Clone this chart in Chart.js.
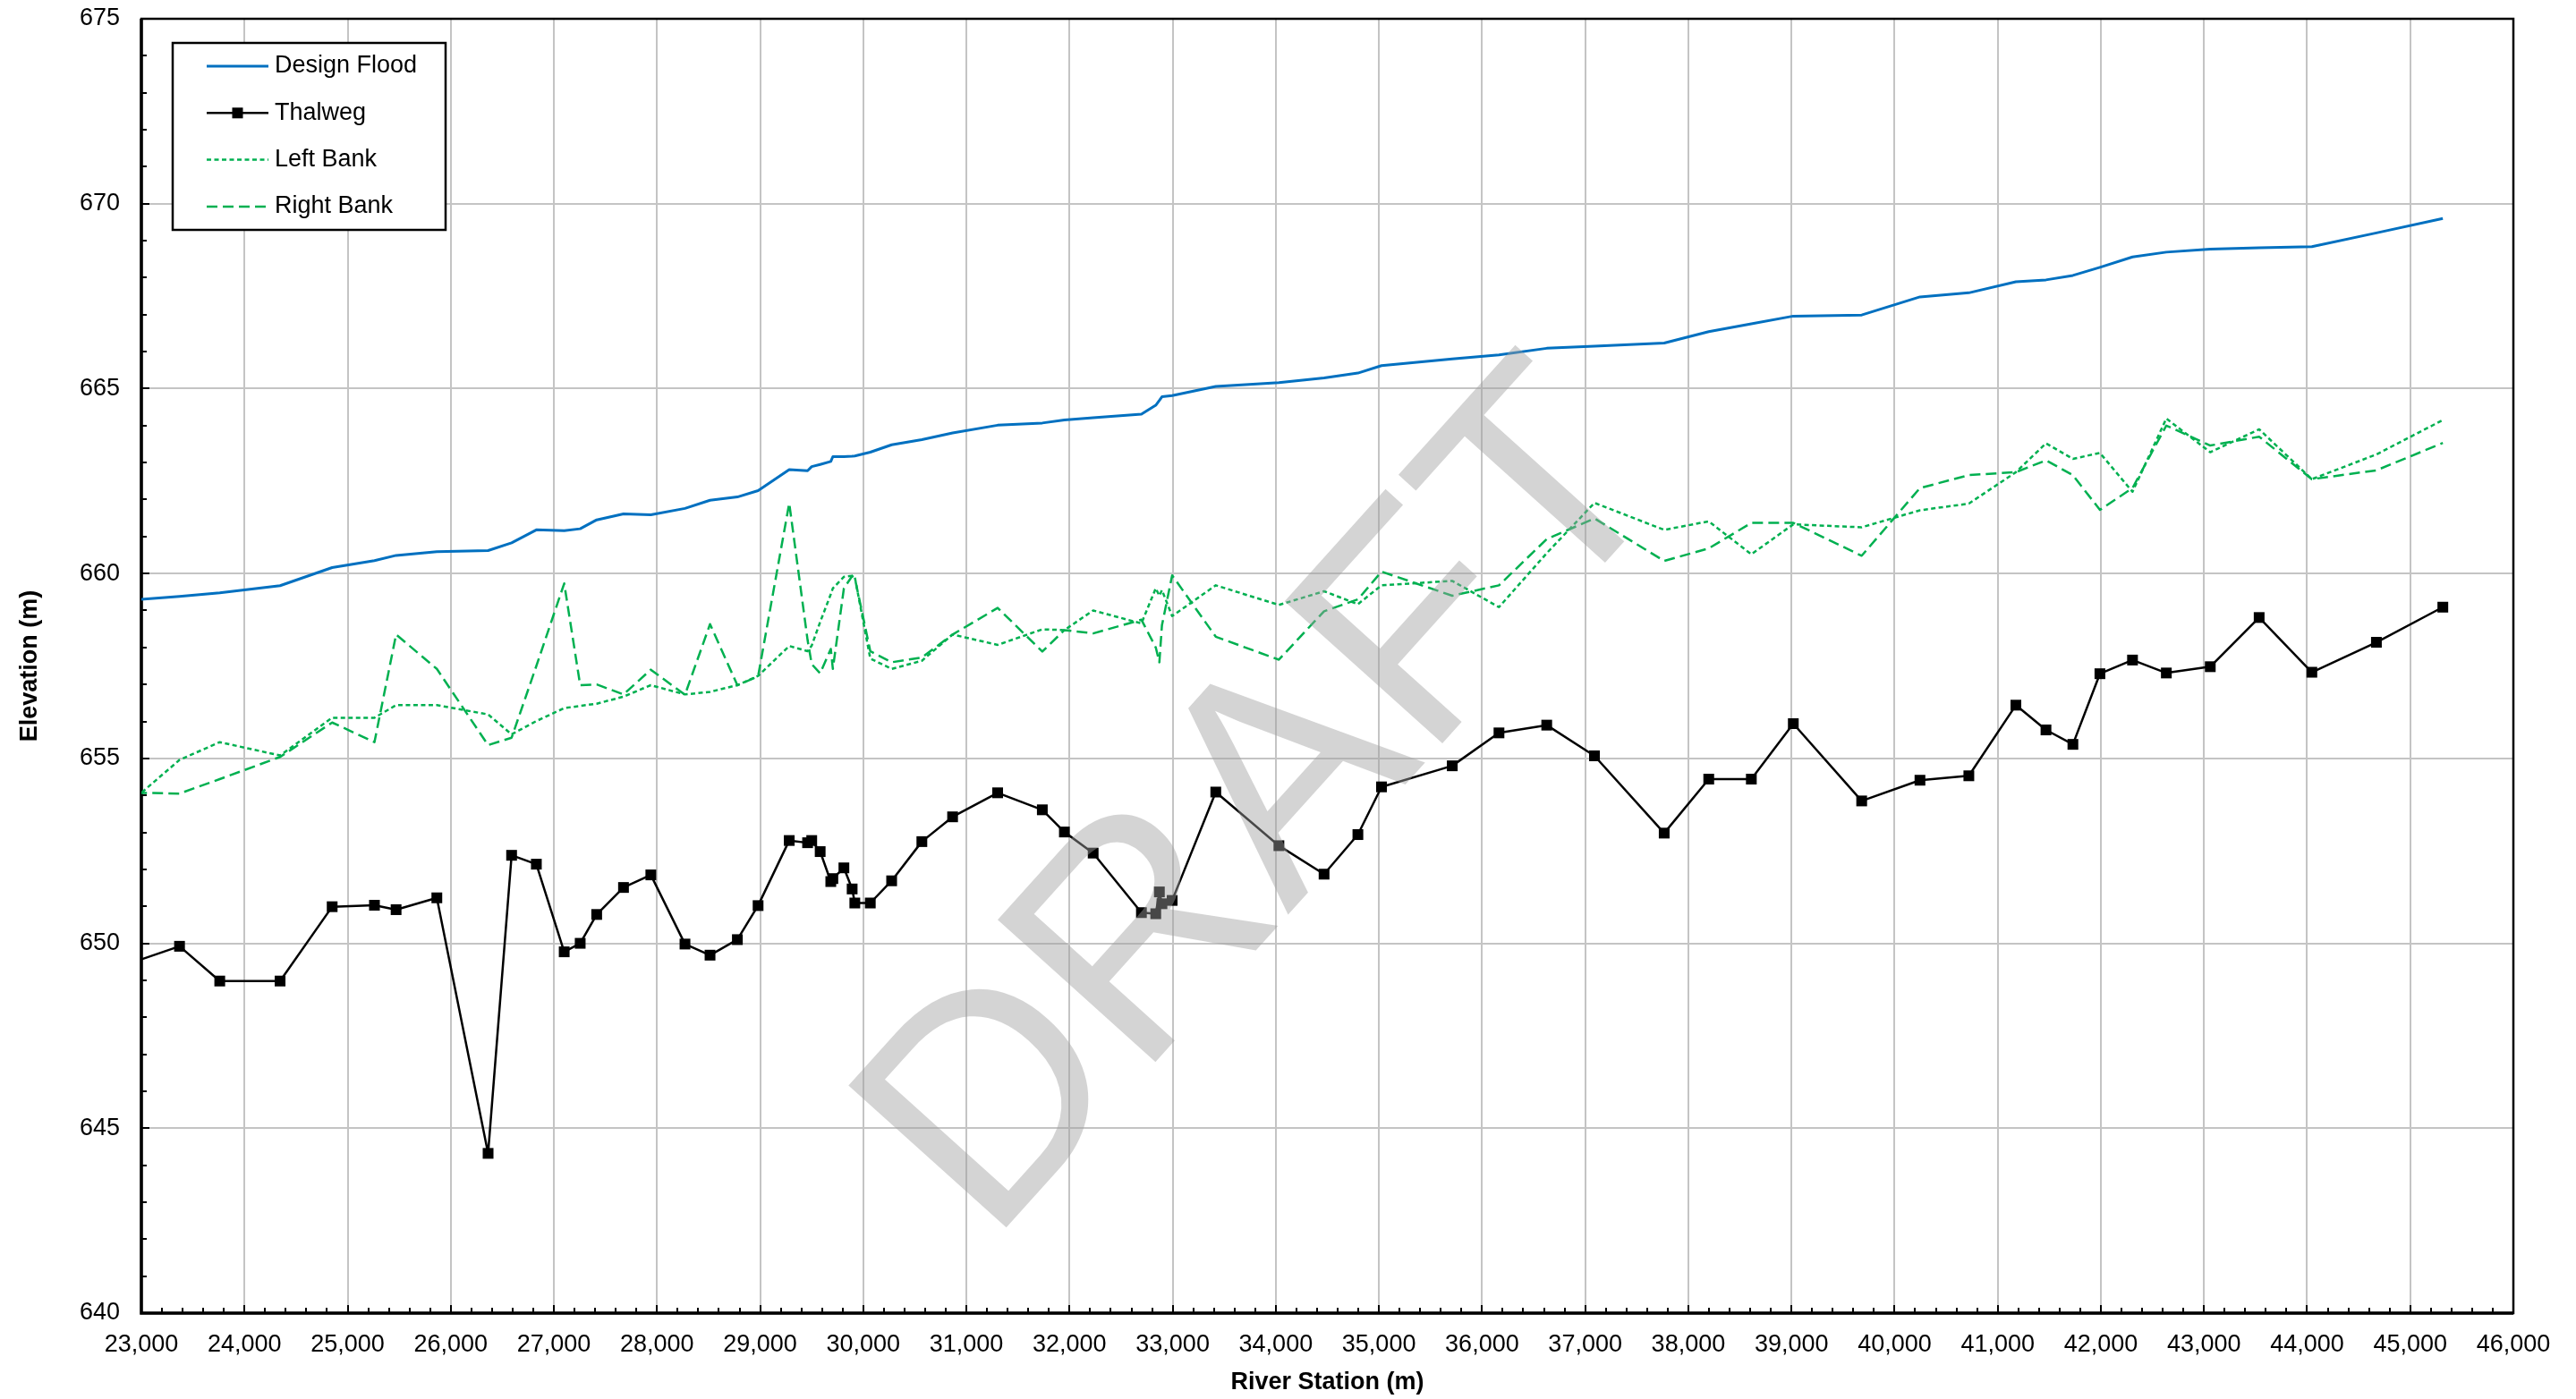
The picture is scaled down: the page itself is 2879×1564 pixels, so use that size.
<!DOCTYPE html>
<html>
<head>
<meta charset="utf-8">
<title>River Profile</title>
<script src="https://cdn.jsdelivr.net/npm/chart.js@4.4.1/dist/chart.umd.min.js"></script>
<style>
  html, body { margin: 0; padding: 0; background: #fff; }
  #profile { display: block; }
</style>
</head>
<body>
<canvas id="profile" width="2879" height="1564"></canvas>
<script>
// River stations (m), shared by every profile
const stations = [
    22950, 23370, 23760, 24345, 24850, 25260, 25470, 25865, 26362, 26590,
    26830, 27100, 27255, 27415, 27675, 27940, 28271, 28514, 28779, 28980,
    29282, 29460, 29500, 29582, 29685, 29705, 29812, 29892, 29918, 30068,
    30275, 30568, 30866, 31303, 31736, 31950, 32229, 32697, 32836, 32871,
    32896, 32995, 33418, 34030, 34468, 34796, 35025, 35711, 36164, 36627,
    37090, 37766, 38198, 38611, 39018, 39681, 40246, 40720, 41176, 41468,
    41729, 41991, 42307, 42635, 43061, 43535, 44046, 44672, 45316
];

// Elevations (m)
const designFlood = [
    659.29, 659.38, 659.48, 659.67, 660.16, 660.35, 660.49, 660.59, 660.62, 660.83,
    661.18, 661.16, 661.21, 661.45, 661.61, 661.59, 661.76, 661.98, 662.07, 662.24,
    662.81, 662.78, 662.89, 662.95, 663.03, 663.16, 663.16, 663.17, 663.18, 663.28,
    663.48, 663.62, 663.80, 664.01, 664.07, 664.15, 664.21, 664.31, 664.55, 664.68,
    664.78, 664.81, 665.06, 665.16, 665.29, 665.42, 665.62, 665.80, 665.91, 666.09,
    666.15, 666.23, 666.54, 666.75, 666.96, 666.99, 667.48, 667.59, 667.89, 667.94,
    668.06, 668.28, 668.56, 668.69, 668.77, 668.81, 668.84, 669.21, 669.60
];
const thalweg = [
    649.52, 649.92, 648.98, 648.98, 650.99, 651.03, 650.91, 651.23, 644.32, 652.38,
    652.14, 649.77, 650.00, 650.78, 651.51, 651.85, 649.98, 649.68, 650.10, 651.02,
    652.78, 652.72, 652.78, 652.48, 651.67, 651.75, 652.04, 651.47, 651.09, 651.09,
    651.69, 652.75, 653.42, 654.07, 653.61, 653.01, 652.44, 650.83, 650.80, 651.39,
    651.07, 651.16, 654.09, 652.64, 651.87, 652.94, 654.23, 654.80, 655.69, 655.90,
    655.07, 652.98, 654.44, 654.44, 655.94, 653.85, 654.41, 654.53, 656.44, 655.77,
    655.38, 657.29, 657.66, 657.31, 657.48, 658.81, 657.33, 658.14, 659.09
];
const leftBank = [
    653.95, 654.96, 655.44, 655.08, 656.10, 656.10, 656.44, 656.44, 656.19, 655.65,
    656.01, 656.36, 656.42, 656.48, 656.67, 656.98, 656.73, 656.80, 656.98, 657.23,
    658.04, 657.90, 658.05, 658.69, 659.44, 659.60, 659.91, 659.94, 659.90, 657.70,
    657.42, 657.64, 658.35, 658.07, 658.49, 658.47, 659.00, 658.65, 659.60, 659.40,
    659.55, 658.85, 659.68, 659.15, 659.52, 659.17, 659.68, 659.80, 659.09, 660.55,
    661.91, 661.18, 661.41, 660.52, 661.33, 661.25, 661.71, 661.89, 662.74, 663.52,
    663.10, 663.26, 662.21, 664.19, 663.28, 663.90, 662.55, 663.22, 664.15
];
const rightBank = [
    654.07, 654.05, 654.44, 655.04, 655.97, 655.44, 658.35, 657.42, 655.36, 655.56,
    657.50, 659.73, 656.98, 657.00, 656.73, 657.40, 656.72, 658.63, 656.98, 657.22,
    661.90, 658.20, 657.55, 657.30, 657.96, 657.42, 659.60, 659.93, 659.88, 657.90,
    657.60, 657.73, 658.35, 659.07, 657.89, 658.47, 658.38, 658.75, 658.00, 657.60,
    658.60, 659.95, 658.29, 657.67, 658.98, 659.30, 660.05, 659.40, 659.68, 660.93,
    661.49, 660.34, 660.68, 661.37, 661.37, 660.48, 662.31, 662.66, 662.74, 663.06,
    662.66, 661.72, 662.31, 664.00, 663.46, 663.70, 662.55, 662.79, 663.53
];

// Axis ranges
const stationRange = [23000, 46000];
const elevationRange = [640, 675];

const FONT = '"Liberation Sans", Arial, sans-serif';
Chart.defaults.font.family = FONT;
Chart.defaults.font.size = 27;
Chart.defaults.color = '#000';

function points(values) {
    return stations.map((s, i) => ({ x: s, y: values[i] }));
}

// inward tick marks and the black frame round the plot area
const frame = {
    id: 'frame',
    beforeDatasetsDraw(chart) {
        const { ctx, chartArea: a, scales: { x, y } } = chart;
        ctx.save();
        ctx.strokeStyle = '#000';
        ctx.lineWidth = 2;
        ctx.beginPath();
        for (let v = elevationRange[0]; v <= elevationRange[1]; v++) {
            const py = Math.round(y.getPixelForValue(v));
            const len = v % 5 === 0 ? 9 : 6;
            ctx.moveTo(a.left, py);
            ctx.lineTo(a.left + len, py);
        }
        for (let v = stationRange[0]; v <= stationRange[1]; v += 200) {
            const px = Math.round(x.getPixelForValue(v));
            const len = v % 1000 === 0 ? 9 : 6;
            ctx.moveTo(px, a.bottom);
            ctx.lineTo(px, a.bottom - len);
        }
        ctx.stroke();
        ctx.lineWidth = 2.5;
        ctx.strokeRect(a.left, a.top, a.right - a.left, a.bottom - a.top);
        ctx.lineWidth = 3.5;
        ctx.beginPath();
        ctx.moveTo(a.left, a.top);
        ctx.lineTo(a.left, a.bottom);
        ctx.lineTo(a.right, a.bottom);
        ctx.stroke();
        ctx.restore();
    }
};

// boxed legend in the top-left corner of the plot
const boxLegend = {
    id: 'boxLegend',
    afterDatasetsDraw(chart) {
        const { ctx, chartArea: a } = chart;
        const left = a.left + 35, top = a.top + 27, w = 305, h = 209;
        ctx.save();
        ctx.fillStyle = '#fff';
        ctx.fillRect(left, top, w, h);
        ctx.lineWidth = 2.5;
        ctx.strokeStyle = '#000';
        ctx.strokeRect(left, top, w, h);
        ctx.font = '27px ' + FONT;
        ctx.textBaseline = 'middle';
        chart.data.datasets.forEach((ds, i) => {
            const cy = top + 26 + i * 52.3;
            const x0 = left + 38, x1 = left + 107;
            ctx.strokeStyle = ds.borderColor;
            ctx.lineWidth = ds.borderWidth;
            ctx.setLineDash(ds.borderDash || []);
            ctx.beginPath();
            ctx.moveTo(x0, cy);
            ctx.lineTo(x1, cy);
            ctx.stroke();
            ctx.setLineDash([]);
            if (ds.pointRadius > 0) {
                const s = 12;
                ctx.fillStyle = ds.pointBackgroundColor;
                ctx.fillRect((x0 + x1) / 2 - s / 2, cy - s / 2, s, s);
            }
            ctx.fillStyle = '#000';
            ctx.fillText(ds.label, left + 114, cy);
        });
        ctx.restore();
    }
};

// DRAFT stamp over the whole chart
const watermark = {
    id: 'watermark',
    afterDraw(chart) {
        const { ctx, chartArea: a } = chart;
        const size = 345;
        ctx.save();
        ctx.translate(a.left + 0.468 * (a.right - a.left), a.top + 0.596 * (a.bottom - a.top));
        ctx.rotate(-48 * Math.PI / 180);
        ctx.font = size + 'px ' + FONT;
        ctx.fillStyle = 'rgba(160, 160, 160, 0.45)';
        ctx.textAlign = 'center';
        ctx.textBaseline = 'alphabetic';
        ctx.fillText('DRAFT', 0, size * 0.358);
        ctx.restore();
    }
};

const datasets = [
    {
        label: 'Design Flood',
        data: points(designFlood),
        borderColor: '#0070C0',
        borderWidth: 3,
        pointRadius: 0,
        order: 4
    },
    {
        label: 'Thalweg',
        data: points(thalweg),
        borderColor: '#000000',
        borderWidth: 2.5,
        pointStyle: 'rect',
        pointRadius: 8.5,
        pointBackgroundColor: '#000000',
        pointBorderWidth: 0,
        order: 3
    },
    {
        label: 'Left Bank',
        data: points(leftBank),
        borderColor: '#00B050',
        borderWidth: 2.5,
        borderDash: [5, 3.5],
        pointRadius: 0,
        order: 2
    },
    {
        label: 'Right Bank',
        data: points(rightBank),
        borderColor: '#00B050',
        borderWidth: 2.5,
        borderDash: [12, 6],
        pointRadius: 0,
        order: 1
    }
];

new Chart(document.getElementById('profile').getContext('2d'), {
    type: 'line',
    data: { datasets: datasets },
    options: {
        responsive: false,
        animation: false,
        events: [],
        devicePixelRatio: 1,
        elements: {
            line: { tension: 0, fill: false, borderJoinStyle: 'round', borderCapStyle: 'butt' }
        },
        layout: { padding: { left: 4, top: 21, right: 70, bottom: 0 } },
        plugins: {
            legend: { display: false },
            tooltip: { enabled: false }
        },
        scales: {
            x: {
                type: 'linear',
                min: stationRange[0],
                max: stationRange[1],
                afterFit: (scale) => { scale.height = 96; },
                ticks: {
                    stepSize: 1000,
                    padding: 19,
                    maxRotation: 0,
                    autoSkip: false,
                    callback: (v) => v.toLocaleString('en-US')
                },
                grid: { color: '#c4c4c4', lineWidth: 2, drawTicks: false },
                border: { display: false },
                title: {
                    display: true,
                    text: 'River Station (m)',
                    font: { size: 27, weight: 'bold' },
                    padding: { top: 0, bottom: 2 }
                }
            },
            y: {
                min: elevationRange[0],
                max: elevationRange[1],
                afterFit: (scale) => {
                    scale.width = 154;
                    scale.paddingTop = 8;
                    scale.paddingBottom = 8;
                },
                ticks: { stepSize: 5, padding: 24 },
                grid: { color: '#c4c4c4', lineWidth: 2, drawTicks: false },
                border: { display: false },
                title: {
                    display: true,
                    text: 'Elevation (m)',
                    font: { size: 27, weight: 'bold' },
                    padding: { top: 13, bottom: 0 }
                }
            }
        }
    },
    plugins: [frame, boxLegend, watermark]
});
</script>
</body>
</html>
